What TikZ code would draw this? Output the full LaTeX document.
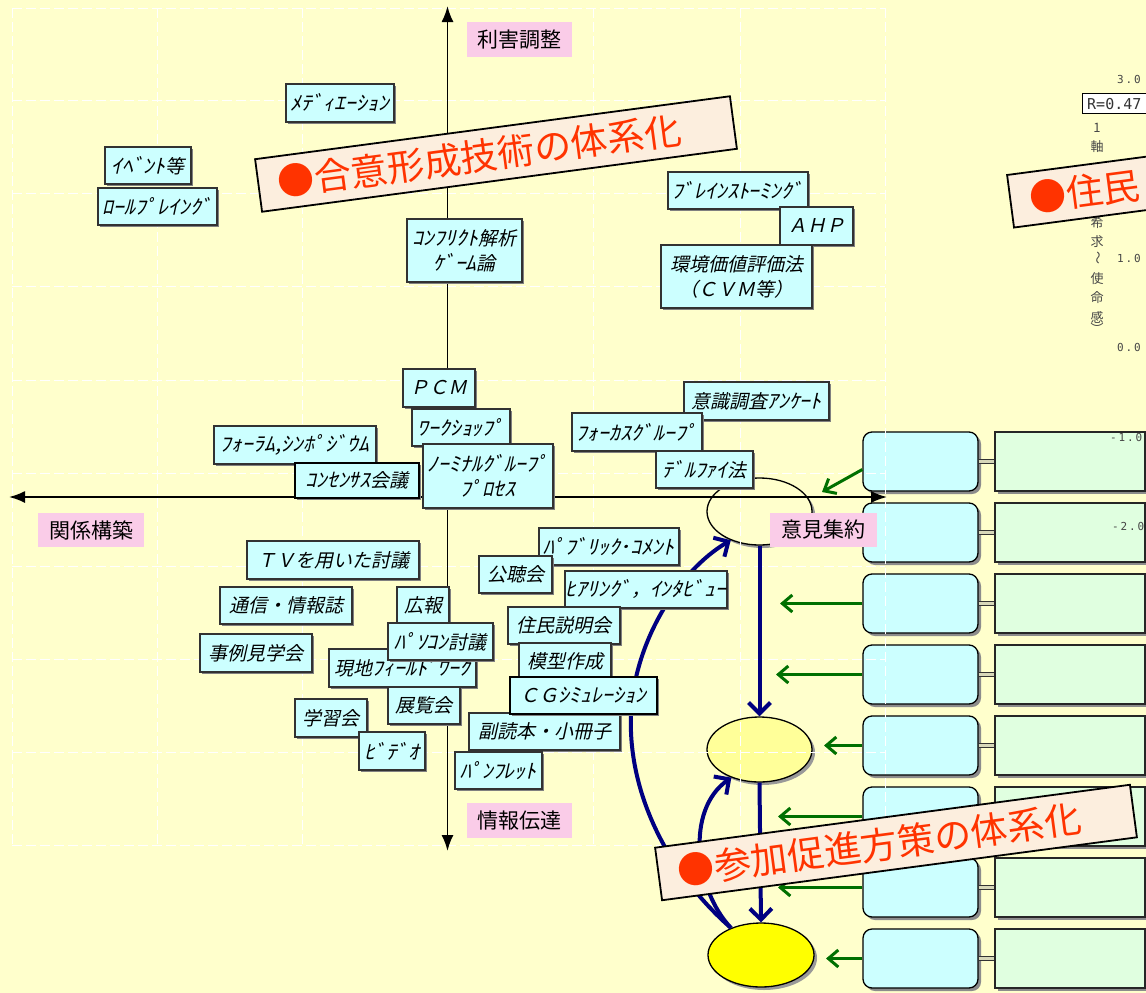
\documentclass[tikz,border=0pt]{standalone}
\usepackage{fontspec}
\usetikzlibrary{arrows.meta,calc,shadows,shapes.geometric}
\newfontfamily\jp{Noto Sans CJK JP}
\newfontfamily\jpi{Noto Sans CJK JP}[FakeSlant=0.22]
\newfontfamily\jpih{Noto Sans CJK JP}[FakeSlant=0.22,FakeStretch=1.1,Scale=1.05]
\newfontfamily\monof{DejaVu Sans Mono}
\newcommand\hk[1]{{\jpih #1}}
\definecolor{bgc}{RGB}{255,255,204}
\definecolor{cyanc}{RGB}{204,255,255}
\definecolor{boxline}{RGB}{50,50,50}
\definecolor{pinkc}{RGB}{250,204,232}
\definecolor{greenc}{RGB}{224,255,224}
\definecolor{dconnc}{RGB}{215,215,185}
\definecolor{bannerc}{RGB}{252,238,222}
\definecolor{bannert}{RGB}{255,51,0}
\definecolor{navyc}{RGB}{0,0,128}
\definecolor{greenar}{RGB}{0,112,0}
\definecolor{lightyel}{RGB}{255,255,153}
\definecolor{yel}{RGB}{255,255,0}
\definecolor{chartc}{RGB}{70,70,70}
\tikzset{
 cbox/.style={draw=boxline, line width=1.1pt, fill=cyanc, inner sep=0pt, align=center,
   font=\jpi\fontsize{19}{25}\selectfont,
   drop shadow={shadow xshift=1.5pt, shadow yshift=-1.5pt, fill=black!50, opacity=1}},
 darkbox/.style={draw=black, line width=1.6pt},
 pbox/.style={fill=pinkc, inner sep=0pt, font=\jp\fontsize{21}{21}\selectfont},
 rbox/.style={draw=black, line width=1.3pt, fill=cyanc, rounded corners=9pt,
   minimum width=115pt, minimum height=59pt, inner sep=0pt,
   drop shadow={shadow xshift=3pt, shadow yshift=-3pt, fill=black!45, opacity=1}},
 grect/.style={draw=black!85, line width=1.3pt, fill=greenc, minimum width=150pt,
   minimum height=59pt, inner sep=0pt,
   drop shadow={shadow xshift=2.5pt, shadow yshift=-2.5pt, fill=black!45, opacity=1}},
 dconn/.style={draw=black!80, double=dconnc, double distance=2.2pt, line width=1pt},
 ell/.style={ellipse, draw=black, line width=1.3pt, inner sep=0pt,
   drop shadow={shadow xshift=3pt, shadow yshift=-3pt, fill=black!40, opacity=1}},
 gridl/.style={white, line width=1pt, dash pattern=on 10pt off 4pt},
 axisl/.style={draw=black, line width=1.8pt, {Latex[length=16pt,width=12pt]}-{Latex[length=16pt,width=12pt]}},
 garrow/.style={draw=greenar, line width=3pt, -{Straight Barb[length=10pt,width=17pt]}},
 barrow/.style={draw=navyc, line width=4pt, -{Straight Barb[length=11pt,width=22pt]}},
 banner/.style={draw=black, line width=1.8pt, fill=bannerc, minimum width=479pt,
   minimum height=53pt, inner sep=0pt},
 bantext/.style={text=bannert, font=\jp\fontsize{37}{37}\selectfont, inner sep=0pt, anchor=west},
 chartnum/.style={text=chartc, font=\monof\fontsize{11}{11}\selectfont, inner sep=0pt, anchor=west},
 chartjp/.style={text=chartc, font=\jp\fontsize{13}{13}\selectfont, inner sep=0pt},
}
\newcommand\cb[7][]{\node[cbox,#1,minimum width={(#5-#3)*1pt},minimum height={(#6-#4)*1pt}] (#2) at ({(#3+#5)/2},{(#4+#6)/2}) {#7};}
\newcommand\pl[6]{\node[pbox,minimum width={(#4-#2)*1pt},minimum height={(#5-#3)*1pt}] (#1) at ({(#2+#4)/2},{(#3+#5)/2}) {#6};}
\begin{document}
\begin{tikzpicture}[x=1pt,y=-1pt]
\useasboundingbox (0,0) rectangle (1146,993);
\clip (0,0) rectangle (1146,993);
\fill[bgc] (0,0) rectangle (1146,993);

% right panel
\foreach \i in {1,...,8}{
  \pgfmathsetmacro\yc{461.5+71*(\i-1)}
  \node[grect] (g\i) at (1070,\yc) {};
  \node[rbox] (r\i) at (920.5,\yc) {};
  \draw[dconn] (r\i.east) -- (g\i.west);
}
\node[ell, fill=bgc, minimum width=105pt, minimum height=67pt] (e1) at (759.5,511.5) {};
\node[ell, fill=lightyel, minimum width=105pt, minimum height=65pt] (e2) at (759.5,749.5) {};
\node[ell, fill=yel, minimum width=106pt, minimum height=64pt] (e3) at (761,955) {};

% grid
\foreach \gx in {12,157,302,447,593,740,885} \draw[gridl] (\gx,8) -- (\gx,845);
\foreach \gy in {8,100,193,286,380,473,566,659,752,845} \draw[gridl] (12,\gy) -- (885,\gy);

% partial chart at right edge
\node[chartnum] (n3) at (1117,79) {3\,.\,0};
\node[chartnum] (n1) at (1117,258) {1\,.\,0};
\node[chartnum] (n0) at (1117,347) {0\,.\,0};
\node[chartnum] (nm1) at (1110,437) {-\,1\,.\,0};
\node[chartnum] (nm2) at (1112,526) {-\,2\,.\,0};
\node[draw=black, line width=1.2pt, fill=white, minimum width=80pt, minimum height=20pt, anchor=west, inner sep=0pt] (rb) at (1082,103.5) {};
\node[font=\monof\fontsize{15}{15}\selectfont, anchor=west, inner sep=0pt, text=black!80] (rt) at (1087,104) {R=0.47};
\node[chartjp] (v1) at (1097,128) {1};
\node[chartjp] (v2) at (1097,147) {軸};
\node[chartjp] (v3) at (1097,223) {希};
\node[chartjp] (v4) at (1097,242) {求};
\node[chartjp, rotate=-90] (v5) at (1097,258) {～};
\node[chartjp] (v6) at (1097,279) {使};
\node[chartjp] (v7) at (1097,298) {命};
\node[chartjp] (v8) at (1097,317) {感};
\node[chartjp, rotate=-90] (v9) at (1097,329) {）};

% axes
\coordinate (vt) at (447.5,6);
\coordinate (vb) at (447.5,851);
\coordinate (hl) at (9,497);
\coordinate (hr) at (887,497);
\draw[axisl] (vt) -- (vb);
\draw[axisl] (hl) -- (hr);

% green arrows
\coordinate (t1) at (822,492);
\coordinate (t3) at (780,603.5);
\coordinate (t4) at (776,674.5);
\coordinate (t5) at (824,745.5);
\coordinate (t6) at (778,816.5);
\coordinate (t7) at (778,887.5);
\coordinate (t8) at (826,958.5);
\draw[garrow] ($(r1.west)+(0,8)$) -- (t1);
\foreach \i in {3,...,8} \draw[garrow] (r\i.west) -- (t\i);

% blue arrows
\draw[barrow] (e1.south) -- (e2.north);
\draw[barrow] (e2.south) -- (e3.north);
\draw[barrow] (e3.138) .. controls (665,870) and (628,790) .. (631,715)
   .. controls (634,640) and (680,570) .. (e1.225);
\draw[barrow] (e3.138) .. controls (695,890) and (685,810) .. (e2.225);

% method boxes
\cb{med}{286}{84}{394}{122}{\hk{ﾒﾃﾞｨｴｰｼｮﾝ}}
\cb{evt}{105}{147}{191}{184}{\hk{ｲﾍﾞﾝﾄ}等}
\cb{role}{98}{188}{217}{225}{\hk{ﾛｰﾙﾌﾟﾚｲﾝｸﾞ}}
\cb{conf}{407}{219}{522}{282}{\hk{ｺﾝﾌﾘｸﾄ}解析\\\hk{ｹﾞｰﾑ}論}
\cb{brain}{668}{172}{808}{209}{\hk{ﾌﾞﾚｲﾝｽﾄｰﾐﾝｸﾞ}}
\cb{ahp}{780}{207}{853}{245}{ＡＨＰ}
\cb{env}{661}{245}{812}{308}{環境価値評価法\\（ＣＶＭ等）}
\cb{pcm}{403}{369}{475}{407}{ＰＣＭ}
\cb{ws}{412}{409}{510}{446}{\hk{ﾜｰｸｼｮｯﾌﾟ}}
\cb{ngp}{423}{444}{553}{508}{\hk{ﾉｰﾐﾅﾙｸﾞﾙｰﾌﾟ}\\\hk{ﾌﾟﾛｾｽ}}
\cb{ank}{684}{382}{829}{420}{意識調査\hk{ｱﾝｹｰﾄ}}
\cb{fg}{572}{413}{702}{451}{\hk{ﾌｫｰｶｽｸﾞﾙｰﾌﾟ}}
\cb{del}{656}{451}{753}{488}{\hk{ﾃﾞﾙﾌｧｲ}法}
\cb{forum}{214}{426}{376}{464}{\hk{ﾌｫｰﾗﾑ,ｼﾝﾎﾟｼﾞｳﾑ}}
\cb[darkbox]{cons}{295}{463}{419}{498}{\hk{ｺﾝｾﾝｻｽ}会議}
\cb{pub}{539}{528}{679}{565}{\hk{ﾊﾟﾌﾞﾘｯｸ･ｺﾒﾝﾄ}}
\cb{kch}{479}{556}{552}{593}{公聴会}
\cb{hear}{565}{571}{727}{608}{\hk{ﾋｱﾘﾝｸﾞ}，\hk{ｲﾝﾀﾋﾞｭｰ}}
\cb{tv}{247}{541}{419}{579}{ＴＶを用いた討議}
\cb{tsu}{220}{587}{352}{624}{通信・情報誌}
\cb{koho}{397}{587}{449}{624}{広報}
\cb{genchi}{329}{649}{476}{687}{現地\hk{ﾌｨｰﾙﾄﾞﾜｰｸ}}
\cb{pc}{388}{623}{493}{660}{\hk{ﾊﾟｿｺﾝ}討議}
\cb{jirei}{200}{634}{312}{672}{事例見学会}
\cb{tenran}{388}{687}{460}{724}{展覧会}
\cb{gaku}{295}{699}{367}{737}{学習会}
\cb{video}{359}{732}{425}{770}{\hk{ﾋﾞﾃﾞｵ}}
\cb{jumin}{508}{607}{620}{644}{住民説明会}
\cb{mokei}{519}{643}{611}{680}{模型作成}
\cb{fuku}{469}{713}{620}{750}{副読本・小冊子}
\cb[darkbox]{cg}{510}{677}{657}{714}{ＣＧ\hk{ｼﾐｭﾚｰｼｮﾝ}}
\cb{pamph}{455}{752}{542}{789}{\hk{ﾊﾟﾝﾌﾚｯﾄ}}

% axis labels
\pl{rigai}{467}{22}{572}{57}{利害調整}
\pl{kankei}{38}{513}{144}{547}{関係構築}
\pl{joho}{467}{803}{572}{838}{情報伝達}
\pl{iken}{770}{513}{877}{547}{意見集約}

% banners
\node[banner, rotate=7.55] (b1) at (496,154) {};
\node[bantext, rotate=7.55] (b1t) at ($(b1.west)!20pt!(b1.east)$) {●合意形成技術の体系化};
\node[banner, rotate=7.55] (b2) at (896,842.5) {};
\node[bantext, rotate=7.55] (b2t) at ($(b2.west)!20pt!(b2.east)$) {●参加促進方策の体系化};
\node[banner, rotate=7.5] (b3) at (1248,170) {};
\node[bantext, rotate=7.5] (b3t) at ($(b3.west)!20pt!(b3.east)$) {●住民};
\end{tikzpicture}
\end{document}
